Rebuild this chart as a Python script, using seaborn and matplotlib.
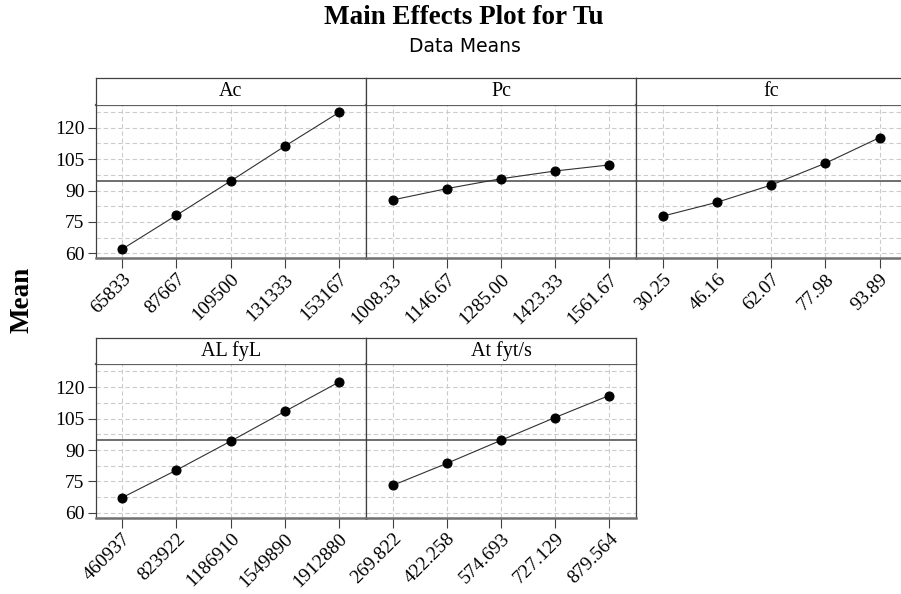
import matplotlib
matplotlib.use("Agg")
import matplotlib.pyplot as plt
import numpy as np
import pandas as pd
import seaborn as sns

# Factor names and their five level labels
factors = ["Ac", "Pc", "fc", "AL fyL", "At fyt/s"]

ac_levels = ["65833", "87667", "109500", "131333", "153167"]
pc_levels = ["1008.33", "1146.67", "1285.00", "1423.33", "1561.67"]
fc_levels = ["30.25", "46.16", "62.07", "77.98", "93.89"]
alfyl_levels = ["460937", "823922", "1186910", "1549890", "1912880"]
atfyt_levels = ["269.822", "422.258", "574.693", "727.129", "879.564"]

# Mean response Tu at each level
ac_means = [62.1, 78.2, 94.5, 111.1, 127.2]
pc_means = [85.5, 90.9, 95.6, 99.3, 102.2]
fc_means = [77.8, 84.4, 92.6, 103.0, 115.2]
alfyl_means = [67.3, 80.4, 94.2, 108.4, 122.4]
atfyt_means = [73.1, 83.6, 94.6, 105.5, 116.0]

grand_mean = 94.6
y_ticks = [60, 75, 90, 105, 120]

level_sets = [ac_levels, pc_levels, fc_levels, alfyl_levels, atfyt_levels]
mean_sets = [ac_means, pc_means, fc_means, alfyl_means, atfyt_means]

rows = []
for name, levels, means in zip(factors, level_sets, mean_sets):
    for i, (lv, m) in enumerate(zip(levels, means)):
        rows.append({"factor": name, "pos": i, "level": lv, "mean": m})
df = pd.DataFrame(rows)

sns.set_theme(style="white")
plt.rcParams["font.family"] = ["Liberation Serif", "DejaVu Serif"]
plt.rcParams["text.color"] = "black"
plt.rcParams["xtick.color"] = "black"
plt.rcParams["ytick.color"] = "black"
plt.rcParams["xtick.labelcolor"] = "black"
plt.rcParams["ytick.labelcolor"] = "black"

W, H = 901, 594
fig = plt.figure(figsize=(W / 100, H / 100), dpi=100)
fig.patch.set_facecolor("white")

def fx(px):
    return px / W

def fy(px):
    return 1 - px / H

panel_w = 270.3
lefts = [95.7, 366.0, 636.3, 95.7, 366.0]
# (plot top, plot bottom, strip top) in pixels
row_geo = [(104.7, 258.3, 78.3), (364.3, 517.7, 338.3)]
row_of = [0, 0, 0, 1, 1]

ylim = (57.7, 130.9)
grid_y = np.arange(60, 130, 7.5)
spine_col = "#404040"

for k, name in enumerate(factors):
    top, bot, stop = row_geo[row_of[k]]
    left = lefts[k]
    ax = fig.add_axes([fx(left), fy(bot), fx(panel_w), (bot - top) / H])
    sax = fig.add_axes([fx(left), fy(top), fx(panel_w), (top - stop) / H])

    sub = df[df["factor"] == name]

    # light dashed grid
    for gy in grid_y:
        ax.axhline(gy, color="#cccccc", lw=0.8, ls=(0, (4, 2.5)), zorder=0)
    for gx in range(5):
        ax.axvline(gx, color="#cccccc", lw=0.8, ls=(0, (4, 2.5)), zorder=0)

    # overall mean reference line
    ax.axhline(grand_mean, color="#555555", lw=1.2, zorder=1)

    sns.lineplot(data=sub, x="pos", y="mean", ax=ax, color="#303030",
                 lw=0.8, marker="o", markersize=6.5, markerfacecolor="black",
                 markeredgecolor="black", zorder=3, legend=False)

    ax.set_xlim(-0.49, 4.5)
    ax.set_ylim(*ylim)
    ax.set_xticks(range(5))
    ax.set_xticklabels(sub["level"].tolist(), rotation=45, ha="right",
                       rotation_mode="anchor", fontsize=14)
    ax.set_xlabel("")
    ax.set_ylabel("")
    ax.set_yticks(y_ticks)
    first_col = k in (0, 3)
    if first_col:
        ax.set_yticklabels([str(t) for t in y_ticks], fontsize=14)
        ax.tick_params(axis="y", length=6, width=0.8, color=spine_col,
                       pad=2, left=True, direction="out")
    else:
        ax.tick_params(axis="y", left=False, labelleft=False)
    ax.tick_params(axis="x", length=7, width=0.8, color=spine_col,
                   pad=2, bottom=True, direction="out")

    for s in ["left", "right"]:
        ax.spines[s].set_color(spine_col)
        ax.spines[s].set_linewidth(0.9)
    ax.spines["bottom"].set_color("#707070")
    ax.spines["bottom"].set_linewidth(1.8)
    ax.spines["top"].set_color("#606060")
    ax.spines["top"].set_linewidth(1.6)

    # strip header
    sax.set_xticks([])
    sax.set_yticks([])
    sax.set_facecolor("white")
    for s in ["left", "right", "top"]:
        sax.spines[s].set_color(spine_col)
        sax.spines[s].set_linewidth(0.9)
    sax.spines["bottom"].set_visible(False)
    sax.text(0.5, 0.5, name, transform=sax.transAxes, ha="center",
             va="center", fontsize=14.5, color="black")

fig.text(fx(464), fy(18), "Main Effects Plot for Tu", ha="center",
         va="center", fontsize=19.5, fontweight="bold", color="black")
fig.text(fx(465), fy(47), "Data Means", ha="center", va="center",
         fontsize=13.5, family=["DejaVu Sans"], color="black")
fig.text(fx(22), fy(300), "Mean", ha="center", va="center", rotation=90,
         fontsize=19.5, fontweight="bold", color="black")

fig.savefig("out.png", dpi=100, facecolor="white")
